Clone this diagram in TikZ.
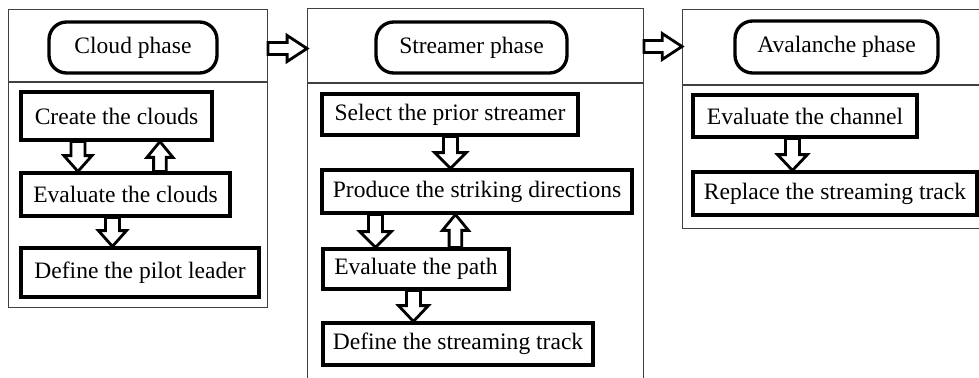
\documentclass[tikz,border=0pt]{standalone}
\usepackage{fontspec}
\setmainfont{Liberation Serif}
\usetikzlibrary{calc}

% hollow block arrow: from, to, shaft half width, head half width, head length
\newcommand{\blockarrow}[5]{%
  \coordinate (bh) at ($(#2)!#5!(#1)$);
  \draw[blockarr] ($(#1)!#3!90:(#2)$) -- ($(bh)!#3!90:(#2)$) -- ($(bh)!#4!90:(#2)$)
    -- (#2) -- ($(bh)!#4!-90:(#2)$) -- ($(bh)!#3!-90:(#2)$) -- ($(#1)!#3!-90:(#2)$) -- cycle;
}

\begin{document}
\begin{tikzpicture}[x=0.02cm, y=-0.02cm,
    font=\fontsize{13.4}{16}\selectfont,
    panel/.style ={draw=black!75, line width=0.6pt, anchor=north west, inner sep=0pt},
    title/.style ={draw, line width=1.9pt, rounded corners=10pt, inner sep=0pt},
    stepbox/.style ={draw, line width=1.8pt, inner sep=0pt},
    blockarr/.style ={draw, fill=white, line width=1.6pt, line join=miter}]
   \clip (0,0) rectangle (979,378);
   % phases
   \node[panel, minimum width=5.18cm, minimum height=5.96cm] (P1) at (8,9) {};
   \node[panel, minimum width=6.72cm, minimum height=8cm] (P2) at (307,8) {};
   \node[panel, minimum width=6cm, minimum height=4.38cm] (P3) at (682,9) {};
   \draw[black!75, line width=0.6pt] ($(P1.north west)+(0,73)$) -- ($(P1.north east)+(0,73)$);
   \draw[black!75, line width=0.6pt] ($(P2.north west)+(0,75)$) -- ($(P2.north east)+(0,75)$);
   \draw[black!75, line width=0.6pt] ($(P3.north west)+(0,76)$) -- ($(P3.north east)+(0,76)$);
   \node[title, minimum width=3.36cm, minimum height=1.02cm] (T1) at (133,47.5) {Cloud phase};
   \node[title, minimum width=3.82cm, minimum height=1.02cm] (T2) at (471.5,47.5) {Streamer phase};
   \node[title, minimum width=4.06cm, minimum height=1.04cm] (T3) at (836.5,47) {Avalanche phase};
   % cloud phase
   \node[stepbox, minimum width=3.82cm, minimum height=0.96cm] (C1) at (116.5,116) {Create the clouds};
   \node[stepbox, minimum width=4.18cm, minimum height=0.86cm] (C2) at (125.5,194.5) {Evaluate the clouds};
   \node[stepbox, minimum width=4.76cm, minimum height=0.98cm] (C3) at (140,272.5) {Define the pilot leader};
   % streamer phase
   \node[stepbox, minimum width=5.12cm, minimum height=0.82cm] (S1) at (450,114.5) {Select the prior streamer};
   \node[stepbox, minimum width=6.2cm, minimum height=0.86cm] (S2) at (477,191.5) {Produce the striking directions};
   \node[stepbox, minimum width=3.72cm, minimum height=0.8cm] (S3) at (416,269) {Evaluate the path};
   \node[stepbox, minimum width=5.4cm, minimum height=0.84cm] (S4) at (458,344) {Define the streaming track};
   % avalanche phase
   \node[stepbox, minimum width=4.48cm, minimum height=0.84cm] (A1) at (805,116) {Evaluate the channel};
   \node[stepbox, minimum width=5.68cm, minimum height=0.86cm] (A2) at (835,193.5) {Replace the streaming track};
   % arrows between phases
   \coordinate (h1) at ($(P1.north east)+(0,39.5)$);
   \coordinate (h1e) at (h1 -| P2.west);
   \blockarrow{h1}{h1e}{3.4pt}{7.4pt}{11.3pt}
   \coordinate (h2) at ($(P2.north east)+(0,38.5)$);
   \coordinate (h2e) at (h2 -| P3.west);
   \blockarrow{h2}{h2e}{3.4pt}{7.4pt}{11.3pt}
   % arrows inside phases
   \coordinate (c1d) at ($(C1.south west)+(58.5,0)$);
   \coordinate (c2d) at (c1d |- C2.north);
   \blockarrow{c1d}{c2d}{4pt}{8pt}{9pt}
   \coordinate (c2u) at ($(C2.north west)+(140.5,0)$);
   \coordinate (c1u) at (c2u |- C1.south);
   \blockarrow{c2u}{c1u}{3.6pt}{7.4pt}{9pt}
   \coordinate (c2d) at ($(C2.south west)+(93,0)$);
   \coordinate (c3d) at (c2d |- C3.north);
   \blockarrow{c2d}{c3d}{4pt}{8pt}{9pt}
   \coordinate (s1d) at ($(S1.south west)+(130,0)$);
   \coordinate (s2d) at (s1d |- S2.north);
   \blockarrow{s1d}{s2d}{4pt}{9pt}{9pt}
   \coordinate (s2d) at ($(S2.south west)+(55,0)$);
   \coordinate (s3d) at (s2d |- S3.north);
   \blockarrow{s2d}{s3d}{4pt}{9pt}{9pt}
   \coordinate (s3u) at ($(S3.north west)+(134,0)$);
   \coordinate (s2u) at (s3u |- S2.south);
   \blockarrow{s3u}{s2u}{3.6pt}{7.4pt}{9pt}
   \coordinate (s3d) at ($(S3.south west)+(92,0)$);
   \coordinate (s4d) at (s3d |- S4.north);
   \blockarrow{s3d}{s4d}{4pt}{8.5pt}{9pt}
   \coordinate (a1d) at ($(A1.south west)+(101,0)$);
   \coordinate (a2d) at (a1d |- A2.north);
   \blockarrow{a1d}{a2d}{4pt}{8.5pt}{9pt}
\end{tikzpicture}
\end{document}
